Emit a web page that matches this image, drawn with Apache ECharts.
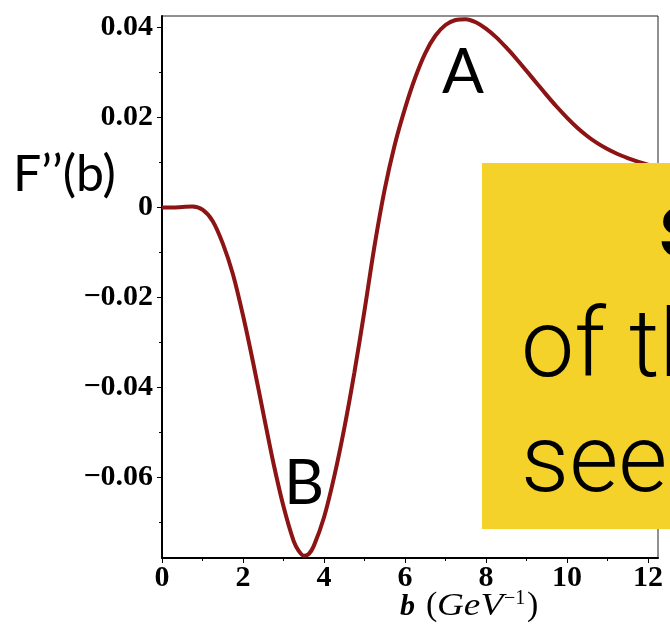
<!DOCTYPE html>
<html>
<head>
<meta charset="utf-8">
<script src="https://cdn.jsdelivr.net/npm/echarts@6/dist/echarts.min.js"></script>
<style>
  html, body { margin: 0; padding: 0; background: #fff; }
  #chart { width: 670px; height: 628px; }
</style>
</head>
<body>
<div id="chart"></div>
<script>
// Impact parameter b (GeV^-1) and the second derivative F''(b)
const bValues = [0, 0.25, 0.5, 0.75, 1.0, 1.25, 1.5, 1.75, 2.0, 2.25, 2.5, 2.75, 3.0, 3.25, 3.375, 3.5, 3.625, 3.75, 4.0, 4.25, 4.5, 4.75, 5.0, 5.25, 5.5, 5.75, 6.0, 6.25, 6.5, 6.75, 7.0, 7.25, 7.5, 7.75, 8.0, 8.25, 8.5, 8.75, 9.0, 9.25, 9.5, 9.75, 10.0, 10.25, 10.5, 10.75, 11.0, 11.25, 11.5, 11.75, 12.0, 12.25];
const fValues = [0, 0.0000, 0.0001, 0.0002, -0.0005, -0.0030, -0.0080, -0.0148, -0.0240, -0.0345, -0.0457, -0.0568, -0.0665, -0.0742, -0.0764, -0.0775, -0.0771, -0.0753, -0.0690, -0.0600, -0.0492, -0.0368, -0.0230, -0.0085, 0.0040, 0.0140, 0.0220, 0.0288, 0.0343, 0.0382, 0.0406, 0.0417, 0.0419, 0.0412, 0.0398, 0.0379, 0.0356, 0.0331, 0.0304, 0.0277, 0.0250, 0.0224, 0.0200, 0.0178, 0.0159, 0.0143, 0.0130, 0.0119, 0.0110, 0.0102, 0.0095, 0.0089];

// Axis tick positions
const xTickLabels = [0, 2, 4, 6, 8, 10, 12];
const xMinorTicks = [1, 3, 5, 7, 9, 11];
const yTickLabels = [-0.06, -0.04, -0.02, 0, 0.02, 0.04];
const yMinorTicks = [-0.07, -0.05, -0.03, -0.01, 0.01, 0.03];

const X_MIN = 0, X_MAX = 12.25;
const Y_MIN = -0.078, Y_MAX = 0.0426;

const tickFont = { fontFamily: 'Liberation Serif', fontWeight: 'bold', fontSize: 30, color: '#000' };
const labelFont = 'Lato';
const serif = 'Liberation Serif';

function yLabel(v) {
  if (Math.abs(v) < 1e-9) return '0';
  return (v < 0 ? '\u2212' : '') + Math.abs(v).toFixed(2);
}

const chart = echarts.init(document.getElementById('chart'), null, { renderer: 'canvas' });

chart.setOption({
  animation: false,
  backgroundColor: '#fff',
  grid: {
    left: 162, right: 12, top: 16, bottom: 70,
    show: true, borderColor: '#222', borderWidth: 1, backgroundColor: 'transparent'
  },
  xAxis: [
    {
      type: 'value', min: X_MIN, max: X_MAX, position: 'bottom',
      axisLine: { show: true, onZero: false, lineStyle: { color: '#000', width: 2 } },
      axisTick: { show: true, customValues: xTickLabels, length: 5, lineStyle: { color: '#000', width: 1 } },
      axisLabel: Object.assign({ customValues: xTickLabels, margin: 5 }, tickFont),
      splitLine: { show: false }
    },
    {
      type: 'value', min: X_MIN, max: X_MAX, position: 'bottom',
      axisLine: { show: false, onZero: false },
      axisTick: { show: true, customValues: xMinorTicks, length: 3, lineStyle: { color: '#000', width: 1 } },
      axisLabel: { show: false },
      splitLine: { show: false }
    }
  ],
  yAxis: [
    {
      type: 'value', min: Y_MIN, max: Y_MAX, position: 'left',
      axisLine: { show: true, onZero: false, lineStyle: { color: '#000', width: 2 } },
      axisTick: { show: true, customValues: yTickLabels, length: 5, lineStyle: { color: '#000', width: 1 } },
      axisLabel: Object.assign({ customValues: yTickLabels, margin: 9, formatter: yLabel }, tickFont),
      splitLine: { show: false }
    },
    {
      type: 'value', min: Y_MIN, max: Y_MAX, position: 'left',
      axisLine: { show: false, onZero: false },
      axisTick: { show: true, customValues: yMinorTicks, length: 3, lineStyle: { color: '#000', width: 1 } },
      axisLabel: { show: false },
      splitLine: { show: false }
    }
  ],
  series: [
    {
      type: 'line',
      xAxisIndex: 0, yAxisIndex: 0,
      data: bValues.map((b, i) => [b, fValues[i]]),
      showSymbol: false,
      smooth: 0.3,
      lineStyle: { color: '#8c1414', width: 4 },
      z: 5
    }
  ],
  graphic: [
    // y-axis title
    {
      type: 'text', x: 13, y: 175, z: 50,
      style: { text: 'F\u2019\u2019(b)', font: '50px ' + labelFont, fill: '#000', verticalAlign: 'middle' }
    },
    // x-axis title: b (GeV^-1)
    {
      type: 'text', x: 400, y: 607, z: 50,
      style: { text: 'b', font: 'italic bold 30px ' + serif, fill: '#000', verticalAlign: 'middle' }
    },
    {
      type: 'text', x: 426, y: 606, z: 50,
      style: { text: '(', font: '34px ' + serif, fill: '#000', verticalAlign: 'middle' }
    },
    {
      type: 'text', x: 437, y: 606.5, z: 50, scaleX: 1.2, originX: 0,
      style: { text: 'GeV', font: 'italic 31px ' + serif, fill: '#000', verticalAlign: 'middle' }
    },
    {
      type: 'text', x: 504, y: 599, z: 50,
      style: { text: '\u22121', font: '20px ' + serif, fill: '#000', verticalAlign: 'middle' }
    },
    {
      type: 'text', x: 527, y: 606, z: 50,
      style: { text: ')', font: '34px ' + serif, fill: '#000', verticalAlign: 'middle' }
    },
    // point markers on the curve
    {
      type: 'text', x: 442, y: 73, z: 50,
      style: { text: 'A', font: '62px ' + labelFont, fill: '#000', verticalAlign: 'middle' }
    },
    {
      type: 'text', x: 284, y: 484, z: 50,
      style: { text: 'B', font: '62px ' + labelFont, fill: '#000', verticalAlign: 'middle' }
    },
    // yellow call-out panel
    {
      type: 'rect', z: 100,
      shape: { x: 482, y: 163, width: 200, height: 366 },
      style: { fill: '#f4d22a' }
    },
    {
      type: 'text', x: 659, y: 233, z: 101,
      style: { text: 's', font: 'bold 95px Roboto', fill: '#000', verticalAlign: 'middle' }
    },
    {
      type: 'text', x: 521, y: 352, z: 101,
      style: { text: 'of the', font: '300 95px Roboto', fill: '#000', verticalAlign: 'middle' }
    },
    {
      type: 'text', x: 521, y: 467, z: 101,
      style: { text: 'seen', font: '300 95px Roboto', fill: '#000', verticalAlign: 'middle' }
    }
  ]
});
</script>
</body>
</html>
